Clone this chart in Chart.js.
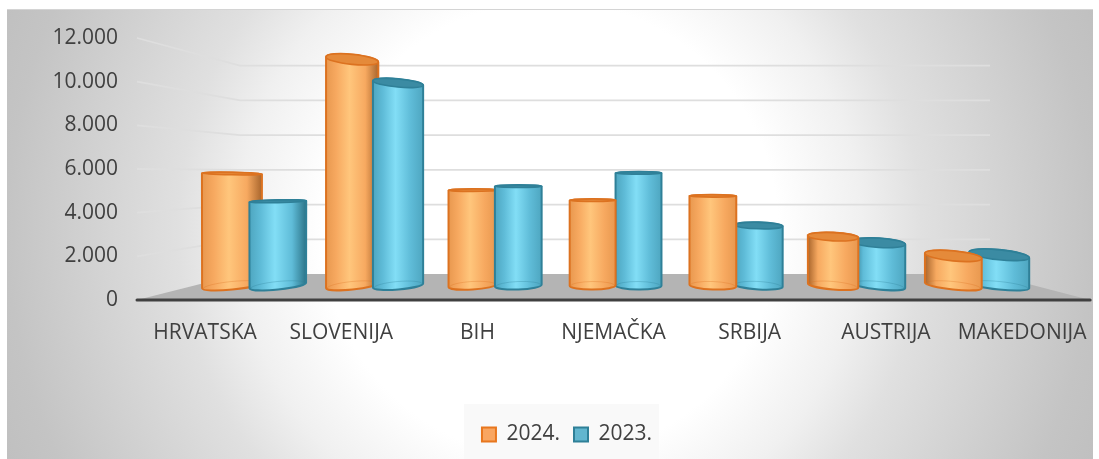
<!DOCTYPE html>
<html><head><meta charset="utf-8">
<style>html,body{margin:0;padding:0;background:#fff}#w{position:absolute;left:0;top:0;width:1099px;height:459px}</style>
<script src="https://cdn.jsdelivr.net/npm/chart.js@4"></script>
</head><body><div id="w"><canvas id="c" width="1099" height="459"></canvas></div>
<script>
const categories=["HRVATSKA","SLOVENIJA","BIH","NJEMAČKA","SRBIJA","AUSTRIJA","MAKEDONIJA"];
const series2024=[5720,10950,4960,4500,4700,2830,1950];
const series2023=[4450,9870,5140,5750,3340,2550,2000];
const yTicks=[0,2000,4000,6000,8000,10000,12000];
const seriesNames=["2024.","2023."];

const ORANGE={edge:'#dc7220',dark:'#a8652c',soft:'#e8984f',mid:'#f7a960',hi:'#ffc67c',top:'#e58a3a'};
const BLUE={edge:'#2f8098',dark:'#2c7488',soft:'#4ea6c0',mid:'#5fbcd8',hi:'#82def6',top:'#3b8ba3'};
const fmt=v=>String(v).replace(/\B(?=(\d{3})+$)/g,'.');

const scene={
  id:'scene',
  beforeDraw(ch){
    const c=ch.ctx,a=ch.chartArea,ys=ch.scales.y;
    c.save();
    c.fillStyle='#fff';c.fillRect(0,0,1099,459);
    c.beginPath();c.rect(7,9,1086,450);c.clip();
    const g=c.createRadialGradient(550,230,0,550,230,600);
    g.addColorStop(0,'#ffffff');g.addColorStop(0.38,'#ffffff');g.addColorStop(0.52,'#f0f0f0');g.addColorStop(0.62,'#e0e0e0');g.addColorStop(0.905,'#c4c4c4');g.addColorStop(1,'#bfbfbf');
    c.fillStyle=g;c.fillRect(0,0,1099,459);
    c.restore();
    c.fillStyle='#d4d4d4';c.fillRect(7,9,1086,1);
    c.fillStyle='#f9f9f9';c.fillRect(464,404,195,55);
    const fy=a.bottom,bk=fy-26,bl=a.left+103,br=990,k=(bk-65.7)/(fy-ys.getPixelForValue(12000));
    c.fillStyle='#b4b4b4';
    c.beginPath();c.moveTo(a.left,fy);c.lineTo(bl,bk);c.lineTo(br,bk);c.lineTo(a.right,fy);c.closePath();c.fill();
    c.strokeStyle='#dedede';c.lineWidth=1.8;
    yTicks.slice(1).forEach(v=>{
      const y=ys.getPixelForValue(v),yb=bk-(fy-y)*k;
      c.beginPath();c.moveTo(a.left,y);c.lineTo(bl,yb);c.lineTo(br,yb);c.stroke();
    });
    c.strokeStyle='#404040';c.lineWidth=3;c.lineCap='round';
    c.beginPath();c.moveTo(a.left,fy);c.lineTo(a.right,fy);c.stroke();
  },
  afterDatasetsDraw(ch){
    const c=ch.ctx,a=ch.chartArea,cx=(a.left+a.right)/2,eye=185;
    const persp=0.883,baseY=a.bottom-14.5;
    const tilt=(x,y)=>Math.max(-0.1,Math.min(0.1,4e-6*(x-cx)*(y-eye)));
    const minor=y=>Math.max(1.2,Math.min(5,y>eye?0.08*(y-eye):0.04*(eye-y)));
    const bars=[];
    ch.data.datasets.forEach((ds,di)=>ch.getDatasetMeta(di).data.forEach(el=>{
      const x=cx+2+(el.x-cx)*persp;bars.push({el,x,pal:di===0?ORANGE:BLUE});
    }));
    bars.sort((p,q)=>Math.abs(q.x-cx)-Math.abs(p.x-cx));
    bars.forEach(({el,x,pal})=>{
      const d=x-cx,w=el.width*persp+9.7e-5*d*d,rx=w/2;
      const topY=el.y-1.5,tT=tilt(x,topY),tB=tilt(x,baseY);
      const rT=minor(topY),rB=4;
      const lt={x:x-rx*Math.cos(tT),y:topY-rx*Math.sin(tT)},rt={x:x+rx*Math.cos(tT),y:topY+rx*Math.sin(tT)};
      const lb={x:x-rx*Math.cos(tB),y:baseY-rx*Math.sin(tB)};
      const g=c.createLinearGradient(x-rx,0,x+rx,0);
      const L=d>190?pal.dark:pal.soft,R=d<-260?pal.dark:pal.soft;
      g.addColorStop(0,L);g.addColorStop(0.2,pal.mid);g.addColorStop(0.45,pal.hi);g.addColorStop(0.75,pal.mid);g.addColorStop(1,R);
      c.save();
      c.lineWidth=2;c.strokeStyle=pal.edge;c.fillStyle=g;
      c.beginPath();c.moveTo(lt.x,lt.y);c.lineTo(lb.x,lb.y);
      c.ellipse(x,baseY,rx,rB,tB,Math.PI,0,true);
      c.lineTo(rt.x,rt.y);c.ellipse(x,topY,rx,rT,tT,0,Math.PI,true);c.closePath();
      c.fill();c.stroke();
      c.lineWidth=1;c.globalAlpha=0.3;
      c.beginPath();c.ellipse(x,baseY,rx-1,rB,tB,Math.PI,0,false);c.stroke();c.globalAlpha=1;
      c.fillStyle=pal.top;c.lineWidth=1.6;
      c.beginPath();c.ellipse(x,topY,rx,rT,tT,0,Math.PI*2);c.fill();c.stroke();
      c.restore();
    });
  }
};

new Chart(document.getElementById('c'),{
  type:'bar',
  data:{labels:categories,datasets:[
    {label:seriesNames[0],data:series2024,backgroundColor:'rgba(0,0,0,0)',borderWidth:0,legendFill:'#f9a661',legendEdge:'#e8771e'},
    {label:seriesNames[1],data:series2023,backgroundColor:'rgba(0,0,0,0)',borderWidth:0,legendFill:'#62b6cf',legendEdge:'#2f8098'}
  ]},
  plugins:[scene],
  options:{
    responsive:false,animation:false,
    layout:{padding:{left:42,right:7,top:38,bottom:4}},
    datasets:{bar:{categoryPercentage:0.763,barPercentage:1}},
    plugins:{
      tooltip:{enabled:false},
      legend:{position:'bottom',labels:{
        color:'#404040',font:{family:'"Open Sans"',size:21},boxWidth:14,boxHeight:14,padding:14,
        generateLabels(ch){return ch.data.datasets.map((d,i)=>({text:d.label,fillStyle:d.legendFill,strokeStyle:d.legendEdge,lineWidth:2,datasetIndex:i,fontColor:'#404040'}));}
      }}
    },
    scales:{
      x:{grid:{display:false},border:{display:false},
        afterFit(s){s.height=110;},
        ticks:{color:'#404040',font:{family:'"Open Sans"',size:21},maxRotation:0,autoSkip:false,padding:12}},
      y:{min:0,max:12000,grid:{display:false},border:{display:false},
        afterFit(s){s.width=95;},
        afterBuildTicks(s){s.ticks=yTicks.map(v=>({value:v}));},
        ticks:{color:'#404040',font:{family:'"Open Sans"',size:21},padding:11,callback:fmt}}
    }
  }
});
</script></body></html>
